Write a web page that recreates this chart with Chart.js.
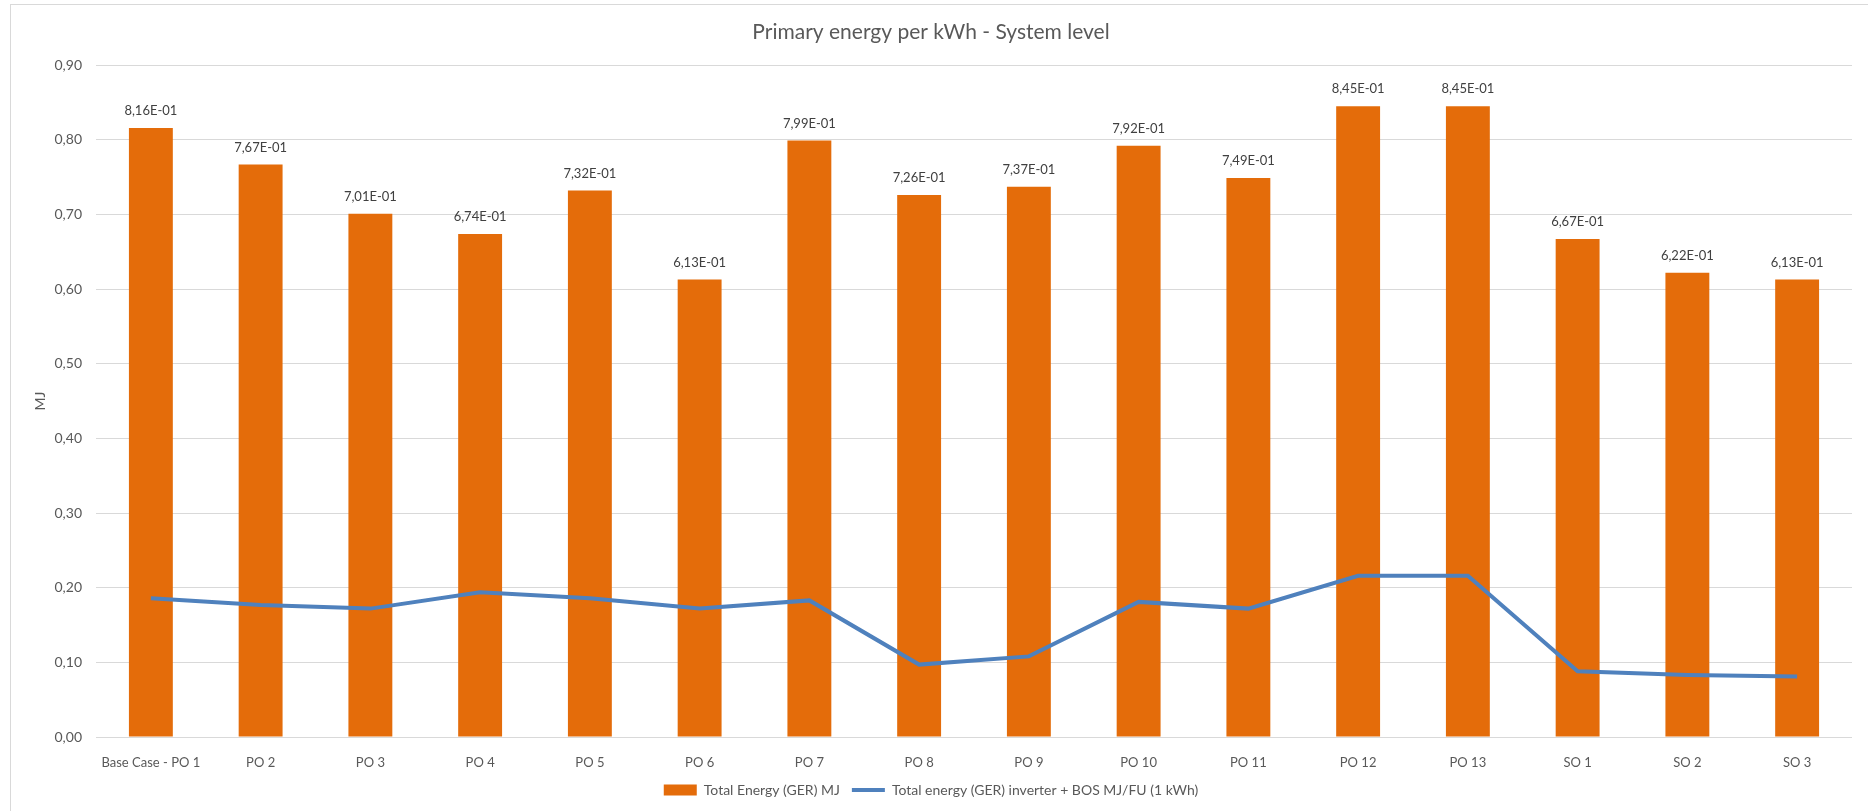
<!DOCTYPE html>
<html>
<head>
<meta charset="utf-8">
<script src="https://cdn.jsdelivr.net/npm/chart.js@4.4.1/dist/chart.umd.min.js"></script>
<style>
  body { margin: 0; background: #fff; }
  #frame { position: absolute; left: 10px; top: 4px; width: 1870px; height: 820px;
           border-left: 1px solid #d9d9d9; border-top: 1px solid #d9d9d9; }
  #wrap { position: absolute; left: 0; top: 0; width: 1868px; height: 811px; }
</style>
</head>
<body>
<div id="frame"></div>
<div id="wrap"><canvas id="energy-chart"></canvas></div>
<script>
var categories = ['Base Case - PO 1', 'PO 2', 'PO 3', 'PO 4', 'PO 5', 'PO 6', 'PO 7', 'PO 8',
                  'PO 9', 'PO 10', 'PO 11', 'PO 12', 'PO 13', 'SO 1', 'SO 2', 'SO 3']
var totalEnergy = [0.816, 0.767, 0.701, 0.674, 0.732, 0.613, 0.799, 0.726,
                   0.737, 0.792, 0.749, 0.845, 0.845, 0.667, 0.622, 0.613]
var inverterBos = [0.186, 0.177, 0.172, 0.194, 0.186, 0.172, 0.183, 0.097,
                   0.108, 0.181, 0.172, 0.216, 0.216, 0.088, 0.083, 0.081]

var grey = '#595959'
var font = 'Lato, "Noto Sans", sans-serif'

// excel style scientific label: 8,16E-01
function sci(v) {
    var parts = v.toExponential(2).split('e')
    var exp = parseInt(parts[1], 10)
    var sign = exp < 0 ? '-' : '+'
    var e = String(Math.abs(exp)).padStart(2, '0')
    return parts[0].replace('.', ',') + 'E' + sign + e
}

var barLabels = {
    id: 'barLabels',
    afterDatasetsDraw(chart) {
        var ctx = chart.ctx
        var meta = chart.getDatasetMeta(0)
        ctx.save()
        ctx.font = '13px ' + font
        ctx.fillStyle = '#404040'
        ctx.textAlign = 'center'
        ctx.textBaseline = 'middle'
        meta.data.forEach(function (bar, i) {
            ctx.fillText(sci(totalEnergy[i]), bar.x, bar.y - 17)
        })
        ctx.restore()
    }
}

var ctx = document.getElementById('energy-chart').getContext('2d')

new Chart(ctx, {
    type: 'bar',
    data: {
        labels: categories,
        datasets: [{
            type: 'bar',
            label: 'Total Energy (GER) MJ',
            data: totalEnergy,
            backgroundColor: '#e46c0a',
            categoryPercentage: 1,
            barPercentage: 0.4,
            order: 2
        }, {
            type: 'line',
            label: 'Total energy (GER) inverter + BOS MJ/FU (1 kWh)',
            data: inverterBos,
            borderColor: '#4f81bd',
            backgroundColor: '#4f81bd',
            borderWidth: 4,
            pointRadius: 0,
            tension: 0,
            order: 1
        }]
    },
    options: {
        responsive: true,
        maintainAspectRatio: false,
        animation: false,
        layout: { padding: { left: 10, right: 16, top: 0, bottom: 4 } },
        scales: {
            x: {
                grid: { display: false },
                border: { display: false },
                ticks: { color: grey, font: { family: font, size: 13 }, padding: 10, maxRotation: 0, autoSkip: false },
                afterFit: function (scale) { scale.height = 34 }
            },
            y: {
                min: 0,
                max: 0.9,
                grid: { color: '#d9d9d9', drawTicks: false },
                border: { display: false },
                ticks: {
                    stepSize: 0.1,
                    color: grey,
                    font: { family: font, size: 14 },
                    padding: 14,
                    callback: function (v) { return v.toFixed(2).replace('.', ',') }
                },
                title: { display: true, text: 'MJ', color: grey, font: { family: font, size: 14 }, padding: { top: 22, bottom: 0 } },
                afterFit: function (scale) { scale.width = 86 }
            }
        },
        plugins: {
            title: {
                display: true,
                text: 'Primary energy per kWh - System level',
                color: grey,
                font: { family: font, size: 21, weight: 'normal' },
                padding: { top: 20, bottom: 20 }
            },
            legend: {
                position: 'bottom',
                labels: {
                    color: grey,
                    font: { family: font, size: 14 },
                    usePointStyle: true,
                    pointStyleWidth: 33,
                    boxHeight: 11,
                    padding: 12,
                    sort: function (a, b) { return a.datasetIndex - b.datasetIndex },
                    generateLabels: function (chart) {
                        var items = Chart.defaults.plugins.legend.labels.generateLabels(chart)
                        items.forEach(function (it) {
                            if (it.datasetIndex === 0) {
                                it.pointStyle = 'rect'
                                it.lineWidth = 0
                            } else {
                                it.pointStyle = 'line'
                                it.lineWidth = 4
                            }
                        })
                        return items
                    }
                }
            },
            tooltip: { enabled: false }
        }
    },
    plugins: [barLabels]
})
</script>
</body>
</html>
